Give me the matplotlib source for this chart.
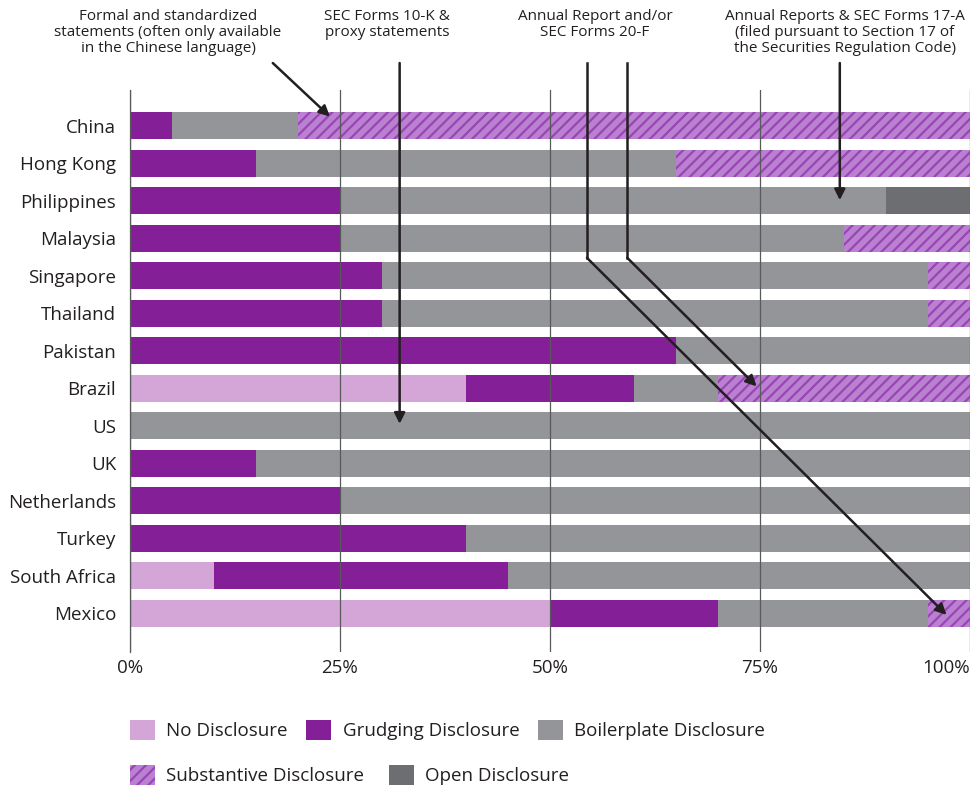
import matplotlib.pyplot as plt
from matplotlib.patches import Patch
import numpy as np

plt.close('all')
plt.rcParams['font.family'] = ['Open Sans', 'DejaVu Sans']
plt.rcParams['hatch.linewidth'] = 1.6

# datos (porcentaje de cada tipo de divulgacion)
countries = ['China', 'Hong Kong', 'Philippines', 'Malaysia', 'Singapore', 'Thailand',
             'Pakistan', 'Brazil', 'US', 'UK', 'Netherlands', 'Turkey', 'South Africa', 'Mexico']
no_disc = [0, 0, 0, 0, 0, 0, 0, 40, 0, 0, 0, 0, 10, 50]
grudging = [5, 15, 25, 25, 30, 30, 65, 20, 0, 15, 25, 40, 35, 20]
boilerplate = [15, 50, 65, 60, 65, 65, 35, 10, 100, 85, 75, 60, 55, 25]
substantive = [80, 35, 0, 15, 5, 5, 0, 30, 0, 0, 0, 0, 0, 5]
open_disc = [0, 0, 10, 0, 0, 0, 0, 0, 0, 0, 0, 0, 0, 0]
tick_vals = [0, 25, 50, 75, 100]
tick_labels = ['0%', '25%', '50%', '75%', '100%']

series = [
    ('No Disclosure', no_disc, dict(color='#d3a6d7')),
    ('Grudging Disclosure', grudging, dict(color='#841f98')),
    ('Boilerplate Disclosure', boilerplate, dict(color='#939598')),
    ('Substantive Disclosure', substantive, dict(facecolor='#b981cf', edgecolor='#9a45b6', hatch='///')),
    ('Open Disclosure', open_disc, dict(color='#6d6e71')),
]

# anotaciones: texto, posicion del texto (px), flechas (inicio, codo, punta) en datos
notes = [
    ('Formal and standardized\nstatements (often only available\nin the Chinese language)', 168,
     [[(17.0, -1.68), (23.8, -0.25)]]),
    ('SEC Forms 10-K &\nproxy statements', 387,
     [[(32.1, -1.68), (32.1, 7.95)]]),
    ('Annual Report and/or\nSEC Forms 20-F', 595,
     [[(54.4, -1.68), (54.4, 3.52), (97.2, 13.05)],
      [(59.2, -1.68), (59.2, 3.52), (74.6, 6.95)]]),
    ('Annual Reports & SEC Forms 17-A\n(filed pursuant to Section 17 of\nthe Securities Regulation Code)', 845,
     [[(84.5, -1.68), (84.5, 1.98)]]),
]

W, H = 974, 788
fig = plt.figure(figsize=(W / 100, H / 100), dpi=100)
ax = fig.add_axes([130 / W, 1 - 652 / H, 840 / W, 562 / H])

y = np.arange(len(countries))
left = np.zeros(len(countries))
handles = []
for name, vals, style in series:
    vals = np.array(vals, dtype=float)
    ax.barh(y, vals, left=left, height=0.72, linewidth=0, zorder=1, **style)
    left += vals
    handles.append(Patch(linewidth=0, label=name, **style))

ax.set_xlim(0, 100)
ax.set_ylim(14.04, -0.96)
ax.set_yticks(y)
ax.set_yticklabels(countries, fontsize=13.5, color='#231f20')
ax.set_xticks(tick_vals)
ax.set_xticklabels(tick_labels, fontsize=13.5, color='#231f20')
# la ultima etiqueta queda alineada a la derecha como en el original
ax.get_xticklabels()[-1].set_ha('right')
ax.tick_params(length=0)
ax.tick_params(axis='x', pad=5)
ax.tick_params(axis='y', pad=10)
ax.set_axisbelow(False)
ax.grid(axis='x', color='#58595b', linewidth=0.9)
ax.grid(axis='y', visible=False)
for s in ['top', 'right', 'bottom']:
    ax.spines[s].set_visible(False)
ax.spines['left'].set_color('#58595b')
ax.spines['left'].set_linewidth(0.9)

arrow_col = '#231f20'
for text, tx, paths in notes:
    fig.text(tx / W, 1 - 9 / H, text, ha='center', va='top', fontsize=11,
             linespacing=1.1, color='#231f20')
    for pts in paths:
        if len(pts) > 2:
            xs = [p[0] for p in pts[:-1]]
            ys = [p[1] for p in pts[:-1]]
            ax.plot(xs, ys, color=arrow_col, lw=1.8, clip_on=False, zorder=5,
                    solid_joinstyle='miter')
        ax.annotate('', xy=pts[-1], xytext=pts[-2], annotation_clip=False,
                    arrowprops=dict(arrowstyle='-|>', color=arrow_col, lw=1.8,
                                    mutation_scale=16, shrinkA=0, shrinkB=0), zorder=5)

leg_kw = dict(frameon=False, fontsize=13.5, handlelength=1.33, handleheight=1.33,
              handletextpad=0.6, borderpad=0, borderaxespad=0, labelcolor='#231f20')
leg1 = fig.legend(handles=handles[:3], ncol=3, loc='center left',
                  bbox_to_anchor=(130 / W, 1 - 730 / H), columnspacing=1.0, **leg_kw)
leg2 = fig.legend(handles=handles[3:], ncol=2, loc='center left',
                  bbox_to_anchor=(130 / W, 1 - 775 / H), columnspacing=1.3, **leg_kw)

fig.savefig('out.png', dpi=100)
